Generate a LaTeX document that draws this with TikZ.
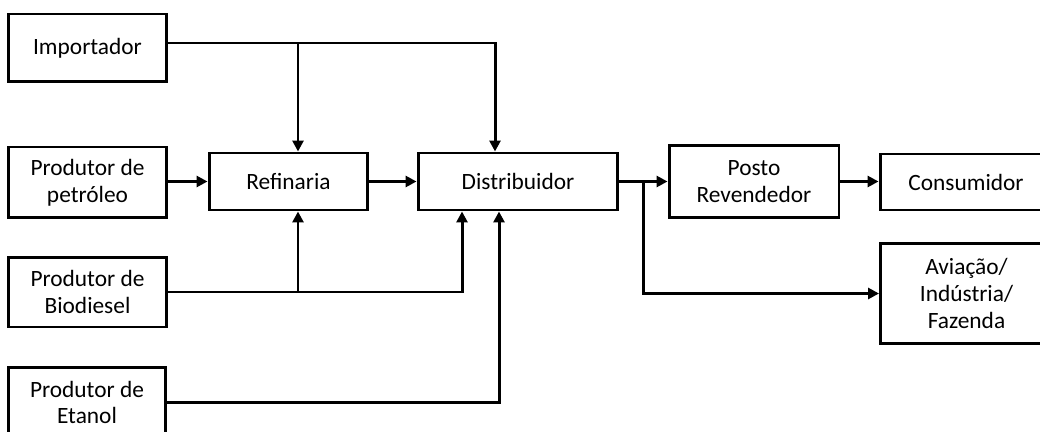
\documentclass[tikz,border=0pt]{standalone}
\usepackage{fontspec}
\setmainfont{Carlito}
\usetikzlibrary{arrows.meta,calc}

\begin{document}
\begin{tikzpicture}[x=0.02cm,y=-0.02cm,
	caixa/.style={draw,line width=1.7pt,align=center,inner sep=0pt,
		font=\fontsize{13.3}{15.3}\selectfont},
	seta/.style={line width=1.7pt,-{Triangle[length=0.22cm,width=0.22cm]}}]
	\useasboundingbox (0,0) rectangle (1040,432);
	% produtores e importador
	\node[caixa,minimum width=3.18cm,minimum height=1.36cm] (imp) at (87.5,48) {Importador};
	\node[caixa,minimum width=3.18cm,minimum height=1.42cm] (pet) at (87.5,182.5) {Produtor de\\petróleo};
	\node[caixa,minimum width=3.18cm,minimum height=1.4cm] (bio) at (87.5,292) {Produtor de\\Biodiesel};
	\node[caixa,minimum width=3.16cm,minimum height=1.4cm] (eta) at (87,402.5) {Produtor de\\Etanol};
	% cadeia
	\node[caixa,minimum width=3.18cm,minimum height=1.14cm] (ref) at (288.5,181.5) {Refinaria};
	\node[caixa,minimum width=4cm,minimum height=1.14cm] (dist) at (518,181.5) {Distribuidor};
	\node[caixa,minimum width=3.4cm,minimum height=1.44cm] (posto) at (754,181.5) {Posto\\Revendedor};
	\node[caixa,minimum width=3.44cm,minimum height=1.12cm] (cons) at (966,182) {Consumidor};
	\node[caixa,minimum width=3.44cm,minimum height=2.02cm] (av) at (966.5,293.5) {Aviação/\\Indústria/\\Fazenda};
	% pontos de chegada
	\coordinate (impsai) at ([yshift=0.1cm]imp.east);
	\coordinate (refnor) at ([xshift=0.19cm]ref.north);
	\coordinate (refsul) at ([xshift=0.19cm]ref.south);
	\coordinate (distnor) at ([xshift=-0.46cm]dist.north);
	\coordinate (distbio) at ([xshift=-1.12cm]dist.south);
	\coordinate (disteta) at ([xshift=-0.38cm]dist.south);
	\coordinate (bif) at ($(dist.east)!0.5!(posto.west)$);
	% ligacoes
	\draw[seta] (impsai) -| (distnor);
	\draw[seta] (impsai -| refnor) -- (refnor);
	\draw[seta] (pet.east |- ref.west) -- (ref.west);
	\draw[seta] (ref.east) -- (dist.west);
	\draw[seta] (bio.east) -| (distbio);
	\draw[seta] (bio.east -| refsul) -- (refsul);
	\draw[seta] (eta.east) -| (disteta);
	\draw[seta] (dist.east) -- (posto.west);
	\draw[seta] (bif) |- (av.west);
	\draw[seta] (posto.east) -- (posto.east -| cons.west);
\end{tikzpicture}
\end{document}
